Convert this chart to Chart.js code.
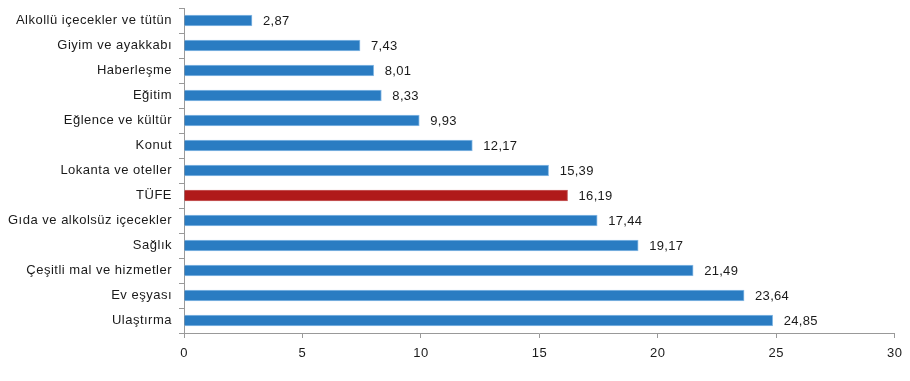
<!DOCTYPE html>
<html><head><meta charset="utf-8">
<script src="https://cdn.jsdelivr.net/npm/chart.js@4/dist/chart.umd.min.js"></script>
<style>html,body{margin:0;padding:0;background:#fff}canvas{display:block}</style>
</head><body>
<canvas id="c" width="910" height="381"></canvas>
<script>
const categories = ["Alkollü içecekler ve tütün","Giyim ve ayakkabı","Haberleşme","Eğitim","Eğlence ve kültür","Konut","Lokanta ve oteller","TÜFE","Gıda ve alkolsüz içecekler","Sağlık","Çeşitli mal ve hizmetler","Ev eşyası","Ulaştırma"];
const values = [2.87,7.43,8.01,8.33,9.93,12.17,15.39,16.19,17.44,19.17,21.49,23.64,24.85];
const xTicks = [0,5,10,15,20,25,30];
const blue = "#2a7cc2", red = "#b01a1a";
const colors = categories.map(c => c === "TÜFE" ? red : blue);
const borders = categories.map(c => c === "TÜFE" ? "#c86060" : "#8dbde6");
const FONT = '"Liberation Sans", Arial, sans-serif';

const spacing = {
  id: 'spacing',
  beforeDraw(chart) { chart.ctx.letterSpacing = '0.5px'; }
};

const valueLabels = {
  id: 'valueLabels',
  afterDatasetsDraw(chart) {
    const ctx = chart.ctx;
    const meta = chart.getDatasetMeta(0);
    ctx.save();
    ctx.letterSpacing = '0.3px';
    ctx.font = '13px ' + FONT;
    ctx.fillStyle = '#1a1a1a';
    ctx.textAlign = 'left';
    ctx.textBaseline = 'middle';
    meta.data.forEach((bar, i) => {
      ctx.fillText(values[i].toFixed(2).replace('.', ','), bar.x + 11, bar.y + 1);
    });
    ctx.restore();
  }
};

const cv = document.getElementById('c');
cv.getContext('2d').letterSpacing = '0.5px';

new Chart(cv, {
  type: 'bar',
  data: { labels: categories, datasets: [{ data: values, backgroundColor: colors, borderColor: borders, borderWidth: { top: 1, bottom: 1, right: 1, left: 0 }, borderSkipped: 'start', barThickness: 11 }] },
  options: {
    indexAxis: 'y',
    responsive: false,
    animation: false,
    layout: { padding: { top: 8, right: 15, left: 0, bottom: 0 } },
    plugins: { legend: { display: false }, tooltip: { enabled: false } },
    scales: {
      x: {
        min: 0, max: 30,
        afterBuildTicks(s) { s.ticks = xTicks.map(v => ({ value: v })); },
        afterFit(s) { s.height = 48; },
        grid: { drawOnChartArea: false, drawTicks: true, tickLength: 5, color: '#999' },
        border: { color: '#999' },
        ticks: { color: '#1a1a1a', padding: 8, font: { family: FONT, size: 13 } }
      },
      y: {
        afterFit(s) { s.width = 184; s.paddingTop = 0; s.paddingBottom = 0; },
        grid: { drawOnChartArea: false, drawTicks: true, tickLength: 5, offset: true, color: '#999' },
        border: { color: '#999' },
        ticks: { color: '#1a1a1a', padding: 7, autoSkip: false, font: { family: FONT, size: 13 } }
      }
    }
  },
  plugins: [spacing, valueLabels]
});
</script>
</body></html>
